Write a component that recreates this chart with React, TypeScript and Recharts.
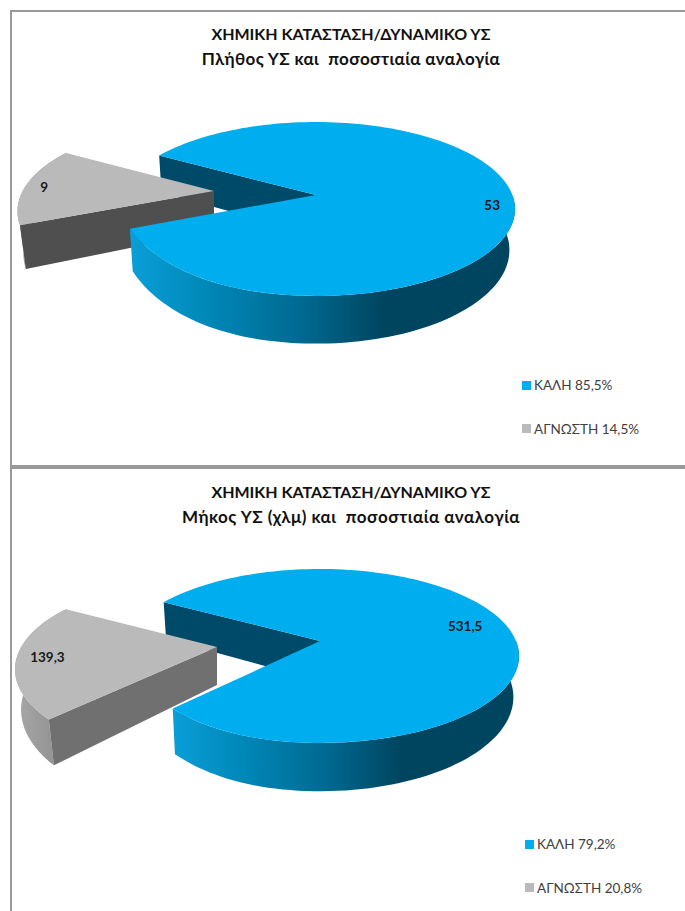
import React from "react";
import { PieChart, Pie, Cell, Legend } from "recharts";

// Categories and values for the two water-body charts
const countCategories = ["ΚΑΛΗ 85,5%", "ΑΓΝΩΣΤΗ 14,5%"];
const countValues = [53, 9];
const countLabels = ["53", "9"];

const lengthCategories = ["ΚΑΛΗ 79,2%", "ΑΓΝΩΣΤΗ 20,8%"];
const lengthValues = [531.5, 139.3];
const lengthLabels = ["531,5", "139,3"];

const sliceColors = ["#00aeef", "#bababa"];
const FONT = "Lato, 'Open Sans', sans-serif";

type Projection = {
  a: number;
  b: number;
  k: number;
  depth: number;
  shrinkLeft: number;
  shrinkRight: number;
  pinch: number;
  dx: number;
  dy: number;
};

type PanelLayout = {
  top: number;
  height: number;
  title: string;
  subtitle: string;
  subtitleSpacing: number;
  titleTop: number;
  cx: number;
  cy: number;
  startAngle: number;
  blue: Projection;
  grey: Projection;
  labelNudge: [number, number][];
  legendLeft: number;
  legendTop: number;
  greyWalls: { cut: string; rimFrom: string; rimTo: string };
};

// Perspective mapping of a point on the unit disc to screen offsets from the pie centre.
// "pinch" narrows the front-left quadrant, where the rim sits closer in than a pure ellipse.
function project(p: Projection, r: number, deg: number, lower = false) {
  const rad = (deg * Math.PI) / 180;
  const u = r * Math.cos(rad);
  const v = -r * Math.sin(rad);
  const w = 1 - p.k * v;
  const x = ((p.a * u) / w) * (1 - p.pinch * Math.max(0, v) * Math.max(0, -u));
  const y = (p.b * v) / w;
  const shrink = u < 0 ? p.shrinkLeft : p.shrinkRight;
  return lower
    ? { x: x * shrink + p.dx, y: y + p.depth / w + p.dy }
    : { x: x + p.dx, y: y + p.dy };
}

// Samples the rim between two angles.
function rim(p: Projection, from: number, to: number, cx: number, cy: number, lower = false) {
  const steps = Math.max(4, Math.ceil(Math.abs(to - from) / 2));
  const pts: string[] = [];
  for (let i = 0; i <= steps; i++) {
    const q = project(p, 1, from + ((to - from) * i) / steps, lower);
    pts.push(`${(cx + q.x).toFixed(2)} ${(cy + q.y).toFixed(2)}`);
  }
  return pts;
}

const poly = (pts: string[]) => "M" + pts.join(" L") + " Z";

function topFace(p: Projection, s: any) {
  const c = project(p, 0, 0);
  return poly([`${s.cx + c.x} ${s.cy + c.y}`, ...rim(p, s.startAngle, s.endAngle, s.cx, s.cy)]);
}

function cutWall(p: Projection, s: any, deg: number) {
  const c0 = project(p, 0, 0);
  const c1 = project(p, 0, 0, true);
  const e0 = project(p, 1, deg);
  const e1 = project(p, 1, deg, true);
  return poly([
    `${s.cx + c0.x} ${s.cy + c0.y}`,
    `${s.cx + e0.x} ${s.cy + e0.y}`,
    `${s.cx + e1.x} ${s.cy + e1.y}`,
    `${s.cx + c1.x} ${s.cy + c1.y}`,
  ]);
}

// Outer wall along the rim on the viewer's side of the disc.
function outerWall(p: Projection, s: any, from: number, to: number) {
  const upper = rim(p, from, to, s.cx, s.cy);
  const lower = rim(p, to, from, s.cx, s.cy, true);
  return poly([...upper, ...lower]);
}

function makeLayers(layout: PanelLayout, id: string) {
  const back = (s: any) =>
    s.index === 0 ? (
      <path d={cutWall(layout.blue, s, s.startAngle)} fill="#004a69" />
    ) : (
      <g>
        <path d={outerWall(layout.grey, s, s.startAngle, s.endAngle)} fill={`url(#${id}-greyRim)`} />
        <path d={cutWall(layout.grey, s, s.startAngle)} fill={layout.greyWalls.cut} />
        <path d={topFace(layout.grey, s)} fill={s.fill} />
      </g>
    );
  const front = (s: any) =>
    s.index === 0 ? (
      <g>
        <path d={outerWall(layout.blue, s, 0, s.endAngle)} fill={`url(#${id}-blueRim)`} />
        <path d={topFace(layout.blue, s)} fill={s.fill} />
      </g>
    ) : (
      <g />
    );
  return { back, front };
}

function LegendList({ payload }: any) {
  // Both pie layers report the same entries, so each name is listed once.
  const seen = new Set<string>();
  const entries = (payload ?? []).filter((e: any) => {
    if (seen.has(e.value)) return false;
    seen.add(e.value);
    return true;
  });
  return (
    <div style={{ fontFamily: FONT, fontSize: 13.5, color: "#404040" }}>
      {entries.map((entry: any, i: number) => (
        <div key={entry.value} style={{ display: "flex", alignItems: "center", height: 17, marginBottom: i === 0 ? 26.5 : 0 }}>
          <span style={{ width: 9, height: 9, background: entry.color, marginRight: 3, display: "inline-block" }} />
          <span>{entry.value}</span>
        </div>
      ))}
    </div>
  );
}

function Panel({ layout, id, categories, values, labels }: { layout: PanelLayout; id: string; categories: string[]; values: number[]; labels: string[] }) {
  const rows = categories.map((name, i) => ({ name, value: values[i], text: labels[i] }));
  const { back, front } = makeLayers(layout, id);
  const common = {
    data: rows,
    dataKey: "value",
    nameKey: "name",
    cx: layout.cx,
    cy: layout.cy,
    outerRadius: 100,
    startAngle: layout.startAngle,
    endAngle: layout.startAngle - 360,
    paddingAngle: 0,
    stroke: "none",
    isAnimationActive: false,
  };
  const cells = rows.map((r, i) => <Cell key={r.name} fill={sliceColors[i]} />);
  const renderLabel = (s: any) => {
    const p = s.index === 0 ? layout.blue : layout.grey;
    const q = project(p, 0.85, s.midAngle);
    const nudge = layout.labelNudge[s.index];
    return (
      <text
        x={s.cx + q.x + nudge[0]}
        y={s.cy + q.y + nudge[1]}
        textAnchor="middle"
        dominantBaseline="central"
        style={{ fontFamily: FONT, fontSize: 13.5, fontWeight: 700, fill: "#1a1a1a" }}
      >
        {rows[s.index].text}
      </text>
    );
  };
  return (
    <div
      style={{
        position: "absolute",
        left: 10,
        top: layout.top,
        width: 690,
        height: layout.height,
        border: "2px solid #9a9a9a",
        background: "#fff",
        boxSizing: "border-box",
      }}
    >
      <div
        style={{
          position: "absolute",
          left: 0,
          top: layout.titleTop,
          width: 678,
          textAlign: "center",
          fontFamily: FONT,
          fontWeight: 700,
          lineHeight: "25px",
          color: "#111",
          whiteSpace: "pre",
        }}
      >
        <div style={{ fontSize: 16 }}>{layout.title}</div>
        <div style={{ fontSize: 17, letterSpacing: layout.subtitleSpacing }}>{layout.subtitle}</div>
      </div>
      <PieChart width={680} height={layout.height - 4} margin={{ top: 0, right: 0, bottom: 0, left: 0 }} style={{ position: "absolute", left: 0, top: 0 }}>
        <defs>
          <linearGradient id={`${id}-blueRim`} x1="0" y1="0" x2="1" y2="0">
            <stop offset="0" stopColor="#0a9fd8" />
            <stop offset="0.2" stopColor="#0088b8" />
            <stop offset="0.44" stopColor="#006a92" />
            <stop offset="0.66" stopColor="#00455f" />
            <stop offset="1" stopColor="#00455f" />
          </linearGradient>
          <linearGradient id={`${id}-greyRim`} x1="0" y1="0" x2="1" y2="0">
            <stop offset="0" stopColor={layout.greyWalls.rimFrom} />
            <stop offset="1" stopColor={layout.greyWalls.rimTo} />
          </linearGradient>
        </defs>
        <Pie {...common} legendType="none" shape={back as any}>
          {cells}
        </Pie>
        <Pie {...common} shape={front as any} label={renderLabel} labelLine={false}>
          {cells}
        </Pie>
        <Legend
          layout="vertical"
          align="center"
          verticalAlign="middle"
          itemSorter={null}
          content={<LegendList />}
          wrapperStyle={{ left: layout.legendLeft, top: layout.legendTop, width: 150 }}
        />
      </PieChart>
    </div>
  );
}

const countLayout: PanelLayout = {
  top: 10,
  height: 457,
  title: "ΧΗΜΙΚΗ ΚΑΤΑΣΤΑΣΗ/ΔΥΝΑΜΙΚΟ ΥΣ",
  subtitle: "Πλήθος ΥΣ και  ποσοστιαία αναλογία",
  subtitleSpacing: 0.35,
  titleTop: 8.5,
  cx: 304,
  cy: 183,
  startAngle: 149.7,
  blue: { a: 196.4, b: 84.7, k: 0.161, depth: 40, shrinkLeft: 0.985, shrinkRight: 0.972, pinch: 0.115, dx: 0, dy: 0 },
  grey: { a: 191.3, b: 84, k: 0.229, depth: 40, shrinkLeft: 0.97, shrinkRight: 0.97, pinch: 0, dx: -102, dy: -4 },
  labelNudge: [[8, 5], [-10, 1]],
  legendLeft: 510,
  legendTop: 364.5,
  greyWalls: { cut: "#4f4f4f", rimFrom: "#9a9a9a", rimTo: "#808080" },
};

const lengthLayout: PanelLayout = {
  top: 467,
  height: 460,
  title: "ΧΗΜΙΚΗ ΚΑΤΑΣΤΑΣΗ/ΔΥΝΑΜΙΚΟ ΥΣ",
  subtitle: "Μήκος ΥΣ (χλμ) και  ποσοστιαία αναλογία",
  subtitleSpacing: 0.47,
  titleTop: 9.5,
  cx: 308,
  cy: 172,
  startAngle: 150,
  blue: { a: 196, b: 84.4, k: 0.172, depth: 40, shrinkLeft: 0.985, shrinkRight: 0.972, pinch: 0.14, dx: 0, dy: 0 },
  grey: { a: 195.8, b: 85, k: 0.246, depth: 38, shrinkLeft: 0.97, shrinkRight: 0.97, pinch: 0, dx: -103, dy: 6 },
  labelNudge: [[-17, -6], [0, 0]],
  legendLeft: 513,
  legendTop: 366.5,
  greyWalls: { cut: "#707070", rimFrom: "#a8a8a8", rimTo: "#8a8a8a" },
};

export default function App() {
  return (
    <div style={{ position: "absolute", left: 0, top: 0, width: 685, height: 911, overflow: "hidden", background: "#fff" }}>
      <Panel layout={countLayout} id="count" categories={countCategories} values={countValues} labels={countLabels} />
      <Panel layout={lengthLayout} id="length" categories={lengthCategories} values={lengthValues} labels={lengthLabels} />
    </div>
  );
}
